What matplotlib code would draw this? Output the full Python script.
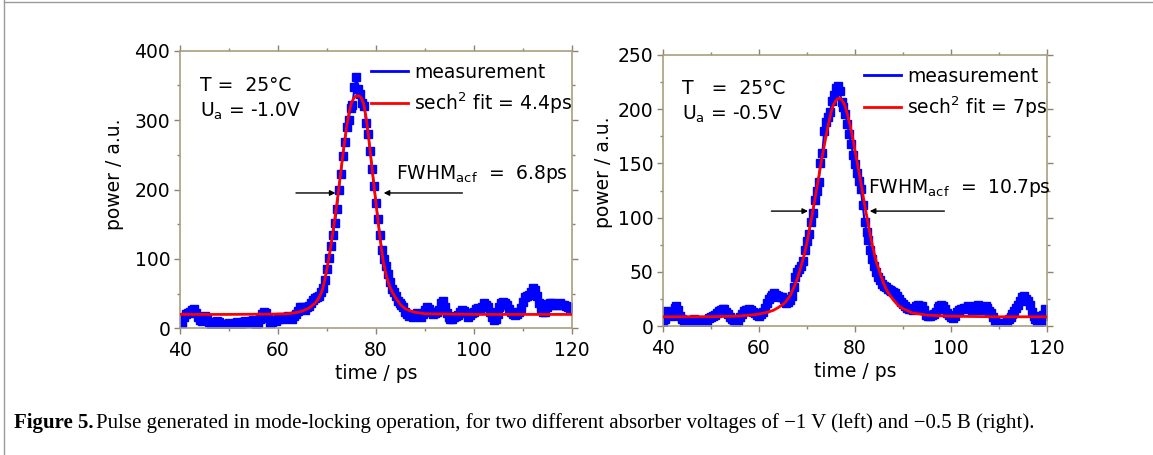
import numpy as np
import matplotlib
matplotlib.use("Agg")
import matplotlib.pyplot as plt
from matplotlib.ticker import MultipleLocator
from matplotlib.lines import Line2D

plt.rcParams["font.family"] = ["DejaVu Sans"]
plt.rcParams["mathtext.fontset"] = "dejavusans"

FS = 13.5
SPINE = "#a99f7f"
TICK = "#8a8470"
BLUE = "#0000ff"
RED = "#ff0000"

# ----- data -----
# measurement sampled every 0.4 ps from 40 to 120 ps
t_meas = np.linspace(40, 120, 201)

meas_left = [
    10, 8, 16, 20, 22, 24, 27, 28, 22, 16,
    12, 10, 15, 18, 14, 9, 6, 5, 8, 11,
    9, 6, 5, 4, 6, 8, 5, 4, 6, 9,
    8, 6, 9, 11, 8, 7, 10, 12, 9, 6,
    8, 13, 21, 24, 22, 15, 8, 9, 12, 10,
    13, 16, 15, 13, 15, 18, 16, 14, 18, 21,
    25, 30, 31, 28, 27, 30, 32, 36, 41, 43,
    45, 47, 52, 58, 70, 85, 101, 118, 134, 152,
    172, 200, 222, 248, 268, 290, 300, 318, 322, 347,
    362, 345, 338, 325, 320, 296, 280, 256, 230, 205,
    180, 158, 134, 113, 100, 90, 78, 66, 57, 52,
    46, 40, 36, 33, 30, 24, 20, 18, 19, 17,
    19, 22, 18, 17, 21, 27, 31, 28, 23, 21,
    22, 24, 27, 36, 40, 30, 22, 17, 13, 14,
    16, 18, 19, 24, 26, 25, 22, 17, 19, 22,
    24, 28, 29, 26, 31, 36, 34, 30, 23, 17,
    12, 14, 20, 30, 37, 38, 36, 34, 28, 24,
    21, 19, 21, 23, 29, 38, 45, 46, 48, 52,
    58, 55, 46, 36, 26, 23, 24, 30, 35, 37,
    36, 34, 33, 35, 36, 34, 33, 32, 30, 29,
    31,
]

meas_right = [
    4, 6, 14, 12, 9, 12, 17, 18, 15, 9,
    6, 4, 3, 4, 4, 5, 6, 5, 4, 3,
    2, 1, 2, 4, 7, 8, 9, 10, 12, 14,
    15, 16, 16, 13, 11, 8, 6, 5, 4, 5,
    8, 11, 14, 15, 15, 16, 15, 13, 12, 10,
    9, 11, 13, 17, 21, 25, 27, 29, 30, 29,
    28, 27, 27, 25, 21, 22, 24, 28, 36, 45,
    50, 53, 55, 60, 70, 78, 85, 96, 104, 116,
    125, 133, 150, 160, 180, 188, 193, 197, 208, 213,
    220, 221, 217, 207, 202, 196, 186, 177, 168, 158,
    149, 141, 134, 126, 112, 96, 87, 79, 70, 62,
    55, 50, 45, 42, 39, 37, 36, 34, 33, 32,
    31, 30, 28, 25, 22, 20, 18, 17, 16, 16,
    15, 16, 18, 19, 18, 18, 15, 10, 9, 9,
    10, 11, 13, 17, 18, 19, 18, 16, 12, 10,
    8, 7, 9, 13, 15, 16, 16, 17, 17, 18,
    16, 15, 15, 18, 19, 17, 15, 16, 18, 17,
    14, 12, 8, 5, 3, 2, 2, 3, 3, 4,
    6, 8, 11, 14, 17, 19, 23, 27, 28, 25,
    23, 19, 13, 9, 6, 4, 3, 5, 10, 16,
    9,
]

fit_t_left = [40, 50, 60, 62, 63, 64, 65, 66, 66.5, 67,
              67.5, 68, 68.5, 69, 69.5, 70, 70.5, 71, 71.5, 72,
              72.5, 73, 73.5, 74, 74.5, 75, 75.5, 76, 76.5, 77,
              77.5, 78, 78.5, 79, 79.5, 80, 80.5, 81, 81.5, 82,
              82.5, 83, 83.5, 84, 84.5, 85, 85.5, 86, 87, 88,
              89, 90, 95, 100, 110, 120]
fit_left = [20, 20, 20.5, 21, 22, 23, 25, 28, 30, 33,
            36, 40, 46, 54, 68, 86, 106, 129, 153, 179,
            207, 236, 264, 290, 311, 325, 332, 335, 335, 332,
            323, 303, 275, 243, 211, 180, 149, 120, 96, 79,
            66, 57, 50, 44, 39, 34, 31, 28, 25, 23,
            22, 21, 20.5, 20, 20, 20]

fit_t_right = [40, 50, 55, 58, 60, 61, 62, 63, 64, 65,
               65.5, 66, 66.5, 67, 67.5, 68, 68.5, 69, 69.5, 70,
               70.5, 71, 71.5, 72, 72.5, 73, 73.5, 74, 74.5, 75,
               75.5, 76, 76.5, 77, 77.5, 78, 78.5, 79, 79.5, 80,
               80.5, 81, 81.5, 82, 82.5, 83, 83.5, 84, 84.5, 85,
               85.5, 86, 86.5, 87, 88, 89, 90, 92, 95, 100,
               110, 120]
fit_right = [8.5, 8.6, 9, 10, 11, 12, 13, 14.5, 17, 20,
             22, 25, 28, 33, 38, 44, 51, 59, 67, 77,
             89, 101, 113, 126, 139, 152, 164, 176, 187, 197,
             204, 208, 210, 210, 207, 202, 194, 185, 174, 162,
             150, 138, 125, 112, 100, 88, 77, 67, 58, 52,
             45, 39, 34, 30, 24, 19, 16, 12, 10, 9,
             8.5, 8.5]

panels = [
    dict(meas=meas_left, fit_t=fit_t_left, fit=fit_left, ymax=400, ymaj=100, ymin=50,
         fit_label="sech$^2$ fit = 4.4ps",
         t_text="T =  25°C", u_text="U$_\\mathrm{a}$ = -1.0V",
         fwhm_text="FWHM$_\\mathrm{acf}$  =  6.8ps",
         arrow_y=195, arrows=((63.1, 72.3), (98.2, 81.0)), fwhm_xy=(84.1, 223),
         rect=[180 / 1153, 1 - 328.3 / 455, 392 / 1153, 277.6 / 455],
         ylab=(-0.143, 0.556)),
    dict(meas=meas_right, fit_t=fit_t_right, fit=fit_right, ymax=250, ymaj=50, ymin=25,
         fit_label="sech$^2$ fit = 7ps",
         t_text="T   =  25°C", u_text="U$_\\mathrm{a}$ = -0.5V",
         fwhm_text="FWHM$_\\mathrm{acf}$  =  10.7ps",
         arrow_y=106, arrows=((62.0, 70.8), (99.2, 82.5)), fwhm_xy=(82.8, 127),
         rect=[663 / 1153, 1 - 326 / 455, 384 / 1153, 271 / 455],
         ylab=(-0.130, 0.568)),
]

fig = plt.figure(figsize=(11.53, 4.55), dpi=100)

for p in panels:
    ax = fig.add_axes(p["rect"])
    ax.plot(t_meas, p["meas"], "-", color=BLUE, lw=1.5, marker="s", ms=5.5,
            mfc=BLUE, mec=BLUE, zorder=2)
    ax.plot(p["fit_t"], p["fit"], "-", color=RED, lw=2, zorder=3)

    ax.set_xlim(40, 120)
    ax.set_ylim(0, p["ymax"])
    ax.xaxis.set_major_locator(MultipleLocator(20))
    ax.xaxis.set_minor_locator(MultipleLocator(10))
    ax.yaxis.set_major_locator(MultipleLocator(p["ymaj"]))
    ax.yaxis.set_minor_locator(MultipleLocator(p["ymin"]))
    for s in ax.spines.values():
        s.set_color(SPINE)
        s.set_linewidth(1.2)
    ax.tick_params(which="both", direction="out", color=TICK, top=True, right=True,
                   labelsize=FS, pad=3)
    ax.tick_params(axis="x", which="both", pad=5)
    ax.tick_params(which="major", length=4, width=1)
    ax.tick_params(which="minor", length=2.5, width=1)

    ax.set_xlabel("time / ps", fontsize=FS, labelpad=3)
    ax.set_ylabel("power / a.u.", fontsize=FS)
    ax.yaxis.set_label_coords(*p["ylab"])

    # legend (line handles only, as in the original)
    handles = [Line2D([], [], color=BLUE, lw=2), Line2D([], [], color=RED, lw=2)]
    ax.legend(handles, ["measurement", p["fit_label"]], loc="upper right",
              bbox_to_anchor=(1.0, 0.957), frameon=False, fontsize=FS,
              handlelength=2.0, handletextpad=0.3, labelspacing=0.45,
              borderaxespad=0, borderpad=0)

    ax.text(0.05, 0.875, p["t_text"], transform=ax.transAxes, fontsize=FS, va="center")
    ax.text(0.05, 0.78, p["u_text"], transform=ax.transAxes, fontsize=FS, va="center")

    (l0, l1), (r0, r1) = p["arrows"]
    y = p["arrow_y"]
    ax.annotate("", xy=(l1, y), xytext=(l0, y),
                arrowprops=dict(arrowstyle="-|>", color="black", lw=1, mutation_scale=8))
    ax.annotate("", xy=(r1, y), xytext=(r0, y),
                arrowprops=dict(arrowstyle="-|>", color="black", lw=1, mutation_scale=8))
    ax.text(p["fwhm_xy"][0], p["fwhm_xy"][1], p["fwhm_text"], fontsize=FS, va="center")

# caption
renderer = fig.canvas.get_renderer()
cap_y = 1 - 423 / 455
CAP_FS = 15
t1 = fig.text(14 / 1153, cap_y, "Figure 5.", fontsize=CAP_FS, weight="bold",
              family="Liberation Serif", va="center")
bb = t1.get_window_extent(renderer)
fig.text((bb.x1 + 3) / 1153, cap_y,
         "Pulse generated in mode-locking operation, for two different absorber voltages "
         "of \u22121 V (left) and \u22120.5 B (right).",
         fontsize=CAP_FS, family="Liberation Serif", va="center")

# page frame lines
fig.add_artist(Line2D([4 / 1153, 4 / 1153], [0, 1], color="#9a9a9a", lw=1))
fig.add_artist(Line2D([4 / 1153, 1], [1 - 1.5 / 455, 1 - 1.5 / 455], color="#9a9a9a", lw=1))

fig.savefig("out.png", dpi=100)
